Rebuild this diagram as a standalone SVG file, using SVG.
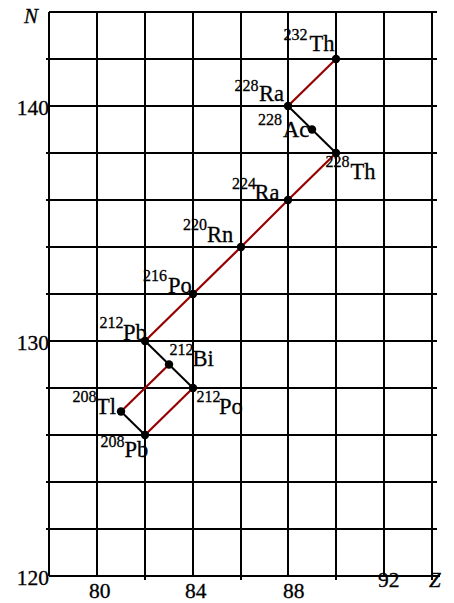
<svg xmlns="http://www.w3.org/2000/svg" width="454" height="603" viewBox="0 0 454 603">
<style>
.g{stroke:#000;stroke-width:2;fill:none}
.a{stroke:#960000;stroke-width:2.2;fill:none}
.b{stroke:#000;stroke-width:2;fill:none}
.dot{fill:#000}
text{font-family:"Liberation Serif","Times New Roman",serif;fill:#000;stroke:#000;stroke-width:0.3}
.el{font-size:22.5px}
.sup{font-size:16px}
.ax{font-size:21.5px}
.it{font-size:21px;font-style:italic}
</style>
<rect width="454" height="603" fill="#fff"/>
<g id="grid" class="g">
<path d="M49 12V576M97 12V576M145 12V580M193 12V576M241 12V580M288 12V576M336 12V580M384 12V576M432 12V580"/>
<path d="M49 12H437M46 59H437M49 106H437M46 153H437M46 200H437M46 247H437M46 294H437M49 341H437M46 388H437M46 435H437M46 482H437M46 529H437M49 576H440"/>
</g>
<g id="axes-labels">
<text class="it" x="24" y="23">N</text>
<text class="ax" x="49" y="114.5" text-anchor="end">140</text>
<text class="ax" x="49" y="349.5" text-anchor="end">130</text>
<text class="ax" x="49" y="585" text-anchor="end">120</text>
<text class="ax" x="89" y="598">80</text>
<text class="ax" x="185" y="598">84</text>
<text class="ax" x="283" y="598">88</text>
<text class="ax" x="378" y="586.5">92</text>
<text class="it" x="429" y="586.5">Z</text>
</g>
<g id="connectors">
<line class="a" x1="336" y1="59" x2="288" y2="106"/>
<line class="b" x1="288" y1="106" x2="312" y2="129.5"/>
<line class="b" x1="312" y1="129.5" x2="336" y2="153"/>
<line class="a" x1="336" y1="153" x2="288" y2="200"/>
<line class="a" x1="288" y1="200" x2="241" y2="247"/>
<line class="a" x1="241" y1="247" x2="193" y2="294"/>
<line class="a" x1="193" y1="294" x2="145" y2="341"/>
<line class="b" x1="145" y1="341" x2="169" y2="364.5"/>
<line class="b" x1="169" y1="364.5" x2="193" y2="388"/>
<line class="a" x1="169" y1="364.5" x2="121" y2="411.5"/>
<line class="a" x1="193" y1="388" x2="145" y2="435"/>
<line class="b" x1="121" y1="411.5" x2="145" y2="435"/>
</g>
<g id="Th232"><circle class="dot" cx="336" cy="59" r="4.2"/><text class="sup" x="283.5" y="39.5">232</text><text class="el" x="309.5" y="51">Th</text></g>
<g id="Ra228"><circle class="dot" cx="288" cy="106" r="4.2"/><text class="sup" x="234.5" y="91">228</text><text class="el" x="259" y="100.5">Ra</text></g>
<g id="Ac228"><circle class="dot" cx="312" cy="129.5" r="4.2"/><text class="sup" x="258" y="125">228</text><text class="el" x="283" y="137">Ac</text></g>
<g id="Th228"><circle class="dot" cx="336" cy="153" r="4.2"/><text class="sup" x="325.5" y="167">228</text><text class="el" x="350.5" y="178.5">Th</text></g>
<g id="Ra224"><circle class="dot" cx="288" cy="200" r="4.2"/><text class="sup" x="232" y="188.5">224</text><text class="el" x="254.5" y="199.5">Ra</text></g>
<g id="Rn220"><circle class="dot" cx="241" cy="247" r="4.2"/><text class="sup" x="183" y="230">220</text><text class="el" x="207" y="242">Rn</text></g>
<g id="Po216"><circle class="dot" cx="193" cy="294" r="4.2"/><text class="sup" x="143" y="281">216</text><text class="el" x="168" y="292.5">Po</text></g>
<g id="Pb212"><circle class="dot" cx="145" cy="341" r="4.2"/><text class="sup" x="99.5" y="327.5">212</text><text class="el" x="123" y="339.5">Pb</text></g>
<g id="Bi212"><circle class="dot" cx="169" cy="364.5" r="4.2"/><text class="sup" x="169.5" y="355">212</text><text class="el" x="192.5" y="366">Bi</text></g>
<g id="Po212"><circle class="dot" cx="193" cy="388" r="4.2"/><text class="sup" x="196.5" y="402">212</text><text class="el" x="219" y="413.5">Po</text></g>
<g id="Tl208"><circle class="dot" cx="121" cy="411.5" r="4.2"/><text class="sup" x="72.5" y="402">208</text><text class="el" x="96" y="413.5">Tl</text></g>
<g id="Pb208"><circle class="dot" cx="145" cy="435" r="4.2"/><text class="sup" x="100.5" y="447">208</text><text class="el" x="124.5" y="457">Pb</text></g>
</svg>
